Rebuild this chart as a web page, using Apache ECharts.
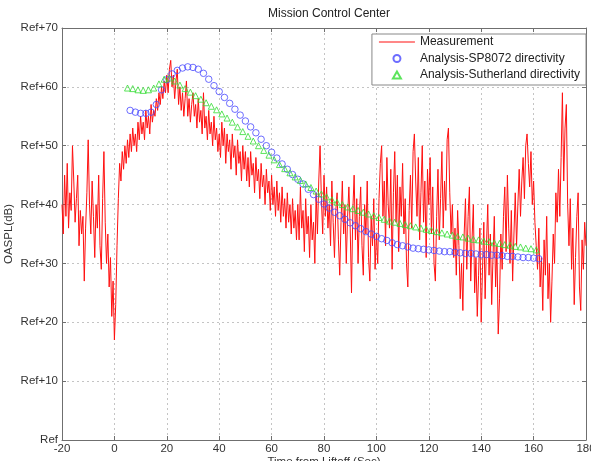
<!DOCTYPE html>
<html>
<head>
<meta charset="utf-8">
<script src="https://cdn.jsdelivr.net/npm/echarts@6/dist/echarts.min.js"></script>
<style>
  html, body { margin: 0; padding: 0; background: #fff; }
  #chart { width: 591px; height: 461px; }
</style>
</head>
<body>
<div id="chart"></div>
<script>
// measured OASPL, one sample every 0.5 s starting at -20 s
const measStart = -20
const measStep = 0.5
const measurement = [
  40, 35, 45, 38, 47, 36, 42, 39, 50, 44, 37, 41, 45, 33, 39, 35, 38, 27, 36, 42,
  51, 40, 35, 44, 38, 31, 40, 36, 45, 33, 29, 41, 49, 37, 30, 35, 26, 31, 21, 27,
  17, 23, 33, 41, 47, 44, 49, 46, 50, 47, 51, 48, 52, 49, 53, 50, 52, 49, 54, 51,
  55, 52, 54, 51, 56, 53, 55, 52, 57, 54, 56, 55, 58, 56, 59, 57, 60, 58, 61, 59,
  62, 59, 63, 64.5, 60, 62, 58, 61, 63, 57, 60, 56, 59, 55, 58, 61, 55, 58, 54, 57,
  59, 55, 57, 53, 58, 54, 56, 52, 59, 53, 55, 51, 56, 52, 54, 50, 55, 51, 53, 49,
  52, 48, 54, 50, 53, 47, 52, 49, 51, 46, 52, 48, 50, 45, 51, 47, 49, 44, 50, 46,
  49, 44, 48, 43, 49, 45, 47, 42, 48, 44, 46, 41, 47, 43, 45, 40, 46, 42, 44, 39,
  45, 40, 43, 38, 44, 39, 42, 37, 43, 38, 41, 36, 42, 37, 40, 35, 41, 36, 39, 34,
  40, 34, 43, 36, 39, 32, 41, 35, 38, 31, 40, 34, 37, 30, 42, 35, 44, 50, 41, 35,
  45, 38, 43, 36, 40, 33, 44, 37, 31, 39, 42, 34, 28, 37, 44, 35, 40, 30, 38, 43,
  36, 25, 39, 45, 34, 41, 30, 38, 43, 33, 28, 40, 35, 44, 31, 27, 38, 33, 41, 29,
  35, 30, 41, 47, 50, 38, 44, 33, 48, 40, 36, 46, 29, 42, 49, 37, 45, 32, 43, 38,
  47, 35, 41, 30, 26, 39, 45, 36, 49, 52, 44, 38, 48, 34, 42, 50, 37, 44, 31, 46,
  40, 48, 35, 43, 30, 27, 38, 46, 34, 41, 49, 36, 44, 39, 51, 53, 42, 35, 40, 31,
  36, 28, 39, 33, 24, 30, 22, 35, 41, 29, 38, 43, 27, 34, 40, 25, 31, 21, 28, 36,
  20, 29, 37, 24, 33, 40, 28, 35, 23, 31, 38, 26, 33, 18, 24, 35, 29, 38, 43, 32,
  45, 36, 30, 39, 27, 35, 42, 33, 40, 46, 38, 44, 48, 41, 50, 52, 47, 43, 49, 40,
  44, 37, 33, 29, 36, 26, 31, 22, 34, 28, 38, 24, 30, 20, 27, 35, 30, 42, 37, 46,
  38, 48, 59, 44, 53, 57, 40, 33, 41, 29, 36, 23, 31, 38, 42, 26, 22, 34, 29, 37,
  33
]

// SP8072 directivity prediction, every 2 s from 6 s
const sp8072Start = 6
const sp8072 = [
  56.0, 55.7, 55.5, 55.5, 55.7, 57.0, 59.5, 61.2, 62.2, 62.8,
  63.2, 63.4, 63.3, 63.0, 62.3, 61.3, 60.2, 59.2, 58.2, 57.2,
  56.2, 55.2, 54.2, 53.2, 52.2, 51.1, 50.0, 48.9, 47.9, 46.9,
  46.0, 45.1, 44.3, 43.5, 42.6, 41.7, 40.9, 40.1, 39.4, 38.7,
  38.1, 37.5, 36.9, 36.4, 35.9, 35.4, 35.0, 34.6, 34.2, 33.9,
  33.5, 33.2, 33.0, 32.8, 32.6, 32.5, 32.4, 32.3, 32.2, 32.1,
  32.0, 32.0, 31.9, 31.8, 31.7, 31.7, 31.6, 31.5, 31.5, 31.4,
  31.4, 31.3, 31.2, 31.2, 31.1, 31.0, 31.0, 30.9, 30.8
]

// Sutherland directivity prediction, every 2 s from 5 s
const sutherlandStart = 5
const sutherland = [
  59.8, 59.7, 59.5, 59.4, 59.5, 59.8, 60.5, 61.3, 61.5, 61.0,
  60.3, 59.7, 59.1, 58.5, 57.9, 57.3, 56.7, 56.1, 55.4, 54.7,
  54.0, 53.2, 52.4, 51.6, 50.8, 50.0, 49.2, 48.4, 47.6, 46.8,
  46.1, 45.4, 44.7, 44.1, 43.5, 42.9, 42.3, 41.8, 41.3, 40.8,
  40.4, 40.0, 39.6, 39.3, 39.0, 38.7, 38.4, 38.1, 37.8, 37.5,
  37.2, 37.0, 36.8, 36.6, 36.4, 36.2, 36.0, 35.8, 35.6, 35.4,
  35.2, 35.0, 34.8, 34.6, 34.5, 34.3, 34.1, 34.0, 33.8, 33.7,
  33.5, 33.4, 33.2, 33.1, 32.9, 32.8, 32.6, 32.5, 32.3
]

const xTicks = [-20, 0, 20, 40, 60, 80, 100, 120, 140, 160, 180]
const yTicks = [0, 10, 20, 30, 40, 50, 60, 70]

const measData = measurement.map((v, i) => [measStart + i * measStep, v])
const spData = sp8072.map((v, i) => [sp8072Start + i * 2, v])
const suData = sutherland.map((v, i) => [sutherlandStart + i * 2, v])

const font = 'Liberation Sans, Arial, sans-serif'
const axisColor = '#6f6f6f'
const gridLine = { show: true, lineStyle: { type: [2, 3], color: '#c4c4c4' } }
const tick = { show: true, inside: true, length: 4, lineStyle: { color: axisColor } }
const line = { show: true, onZero: false, lineStyle: { color: axisColor } }

// thin line icon, with tiny specks so the box keeps its full height and the line sits in the middle
const lineIcon = 'path://M0,0 L0.01,0 L0.01,0.01 Z M0,3 L36,3 L36,4 L0,4 Z M0,7 L0.01,7 L0.01,6.99 Z'

const baseX = {
  type: 'value',
  min: xTicks[0],
  max: xTicks[xTicks.length - 1],
  interval: 20
}
const baseY = {
  type: 'value',
  min: yTicks[0],
  max: yTicks[yTicks.length - 1],
  interval: 10
}

const chart = echarts.init(document.getElementById('chart'))
chart.setOption({
  animation: false,
  backgroundColor: '#fff',
  title: {
    text: 'Mission Control Center',
    left: 324,
    textAlign: 'center',
    top: 3,
    textStyle: { fontFamily: font, fontSize: 12, fontWeight: 'normal', color: '#222' }
  },
  grid: { left: 62, right: 5, top: 28, bottom: 21, containLabel: false, outerBoundsMode: 'none' },
  legend: {
    orient: 'vertical',
    right: 5,
    top: 34,
    padding: [2, 6, 4, 7],
    itemGap: 4.5,
    itemWidth: 36,
    itemHeight: 7,
    backgroundColor: '#fff',
    borderColor: '#888',
    borderWidth: 1,
    textStyle: { fontFamily: font, fontSize: 12, color: '#222' },
    data: [
      { name: 'Measurement', icon: lineIcon, itemStyle: { color: '#ff1010', borderWidth: 0 } },
      { name: 'Analysis-SP8072 directivity' },
      { name: 'Analysis-Sutherland directivity', icon: 'path://M4,0 L8,7 L0,7 Z' }
    ]
  },
  xAxis: [
    Object.assign({}, baseX, {
      position: 'bottom',
      name: 'Time from Liftoff (Sec)',
      nameLocation: 'middle',
      nameGap: 16,
      nameMoveOverlap: false,
      nameTextStyle: { fontFamily: font, fontSize: 11.5, color: '#333' },
      axisLine: line,
      axisTick: tick,
      axisLabel: { fontFamily: font, fontSize: 11.5, color: '#333', margin: 3 },
      splitLine: gridLine
    }),
    Object.assign({}, baseX, {
      position: 'top',
      axisLine: line,
      axisTick: tick,
      axisLabel: { show: false },
      splitLine: { show: false }
    })
  ],
  yAxis: [
    Object.assign({}, baseY, {
      position: 'left',
      name: 'OASPL(dB)',
      nameLocation: 'middle',
      nameGap: 47,
      nameMoveOverlap: false,
      nameTextStyle: { fontFamily: font, fontSize: 11.5, color: '#333' },
      axisLine: line,
      axisTick: tick,
      axisLabel: {
        fontFamily: font, fontSize: 11.5, color: '#333', margin: 4,
        formatter: v => v === 0 ? 'Ref' : 'Ref+' + v
      },
      splitLine: gridLine
    }),
    Object.assign({}, baseY, {
      position: 'right',
      axisLine: line,
      axisTick: tick,
      axisLabel: { show: false },
      splitLine: { show: false }
    })
  ],
  series: [
    {
      name: 'Measurement',
      type: 'line',
      data: measData,
      symbol: 'none',
      showSymbol: false,
      lineStyle: { color: '#ff1010', width: 1 },
      itemStyle: { color: '#ff1010' },
      z: 2
    },
    {
      name: 'Analysis-SP8072 directivity',
      type: 'scatter',
      data: spData,
      symbol: 'circle',
      symbolSize: 6.5,
      itemStyle: { color: 'rgba(0,0,0,0)', borderColor: '#4848ff', borderWidth: 1 },
      z: 3
    },
    {
      name: 'Analysis-Sutherland directivity',
      type: 'scatter',
      data: suData,
      symbol: 'triangle',
      symbolSize: 6,
      itemStyle: { color: 'rgba(0,0,0,0)', borderColor: '#33dd33', borderWidth: 1 },
      z: 4
    }
  ]
})
</script>
</body>
</html>
